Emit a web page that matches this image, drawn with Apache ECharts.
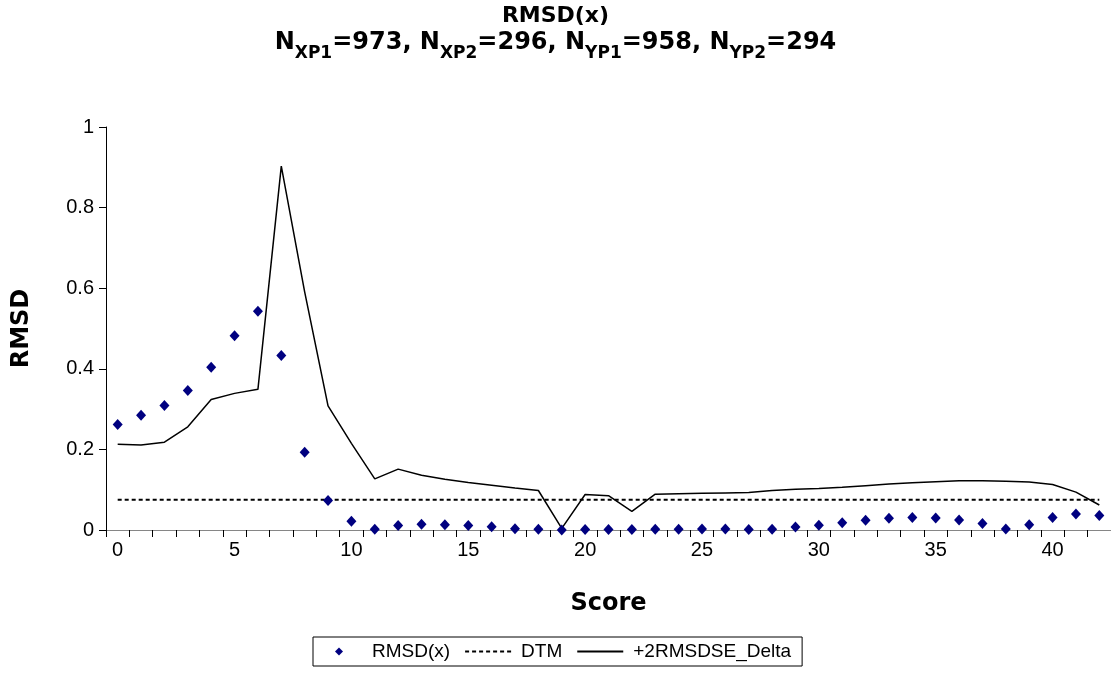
<!DOCTYPE html>
<html><head><meta charset="utf-8">
<script src="https://cdn.jsdelivr.net/npm/echarts@6/dist/echarts.min.js"></script>
<style>html,body{margin:0;padding:0;background:#fff}#c{width:1111px;height:673px}</style>
</head><body><div id="c"></div>
<script>
const scores = [0,1,2,3,4,5,6,7,8,9,10,11,12,13,14,15,16,17,18,19,20,21,22,23,24,25,26,27,28,29,30,31,32,33,34,35,36,37,38,39,40,41,42];
const rmsd = [0.262,0.285,0.309,0.346,0.404,0.482,0.543,0.433,0.193,0.073,0.022,0.002,0.011,0.014,0.013,0.011,0.008,0.003,0.002,0.000,0.001,0.001,0.001,0.002,0.002,0.0025,0.0025,0.001,0.002,0.0074,0.012,0.018,0.024,0.029,0.031,0.030,0.025,0.016,0.0025,0.013,0.031,0.040,0.036];
const dtm = scores.map(() => 0.075);
const upper = [0.213,0.211,0.218,0.256,0.324,0.339,0.349,0.903,0.591,0.308,0.215,0.127,0.151,0.136,0.126,0.118,0.111,0.104,0.098,0.004,0.088,0.085,0.046,0.089,0.090,0.091,0.092,0.093,0.098,0.101,0.103,0.106,0.110,0.114,0.117,0.120,0.122,0.122,0.121,0.119,0.113,0.094,0.062];
const yTicks = {min:0, max:1, interval:0.2};

const FF = '"Liberation Sans", Arial, sans-serif';
const FT = '"DejaVu Sans", sans-serif';
const chart = echarts.init(document.getElementById('c'));
chart.setOption({
  animation:false,
  backgroundColor:'#fff',
  title:{
    left:'center', top:0,
    text:'{t|RMSD(x)}\n{n|N}{s|XP1}{n|=973, N}{s|XP2}{n|=296, N}{s|YP1}{n|=958, N}{s|YP2}{n|=294}',
    textStyle:{
      fontFamily:FT,
      rich:{
        t:{fontFamily:FT,fontSize:22,fontWeight:'bold',color:'#000',lineHeight:26,padding:[0,0,4,0]},
        n:{fontFamily:FT,fontSize:24,fontWeight:'bold',color:'#000',lineHeight:26,verticalAlign:'top'},
        s:{fontFamily:FT,fontSize:17,fontWeight:'bold',color:'#000',lineHeight:17,padding:[14,0,0,0],verticalAlign:'top'}
      }
    }
  },
  legend:{
    left:313, top:637, width:700,
    padding:[5,11,5,22],
    borderColor:'#000', borderWidth:1,
    itemGap:14, itemWidth:46, itemHeight:8,
    textStyle:{fontFamily:FF,fontSize:19,color:'#000',padding:[0,0,0,5]},
    data:[
      {name:'RMSD(x)', icon:'path://M0,-1L1,0L0,1L-1,0Z'},
      {name:'DTM', itemStyle:{opacity:0}},
      {name:'+2RMSDSE_Delta', itemStyle:{opacity:0}}
    ]
  },
  grid:{left:106, right:0, top:127, bottom:143},
  xAxis:{
    type:'category', data:scores, boundaryGap:true,
    name:'Score', nameLocation:'middle', nameGap:62,
    nameTextStyle:{fontFamily:FT,fontSize:24,fontWeight:'bold',color:'#000'},
    axisLine:{lineStyle:{color:'#868686',width:1}},
    axisTick:{show:true,interval:0,length:7,lineStyle:{color:'#000'}},
    axisLabel:{interval:4,margin:10,fontFamily:FF,fontSize:20,color:'#000'},
    splitLine:{show:false}
  },
  yAxis:{
    type:'value', min:yTicks.min, max:yTicks.max, interval:yTicks.interval,
    name:'RMSD', nameLocation:'middle', nameGap:72,
    nameTextStyle:{fontFamily:FT,fontSize:24,fontWeight:'bold',color:'#000'},
    axisLine:{show:true,lineStyle:{color:'#000',width:1}},
    axisTick:{show:true,length:7,lineStyle:{color:'#000'}},
    axisLabel:{margin:12,fontFamily:FF,fontSize:20,color:'#000'},
    splitLine:{show:false}
  },
  series:[
    {name:'RMSD(x)', type:'scatter', data:rmsd, symbol:'diamond', symbolSize:[10,11],
     itemStyle:{color:'#000080',opacity:1}, z:5},
    {name:'DTM', type:'line', data:dtm, symbol:'none', showSymbol:false,
     lineStyle:{color:'#000',width:2,type:[4,3]}, itemStyle:{color:'#000'}},
    {name:'+2RMSDSE_Delta', type:'line', data:upper, symbol:'none', showSymbol:false,
     lineStyle:{color:'#000',width:1.5}, itemStyle:{color:'#000'}}
  ]
});
</script></body></html>
